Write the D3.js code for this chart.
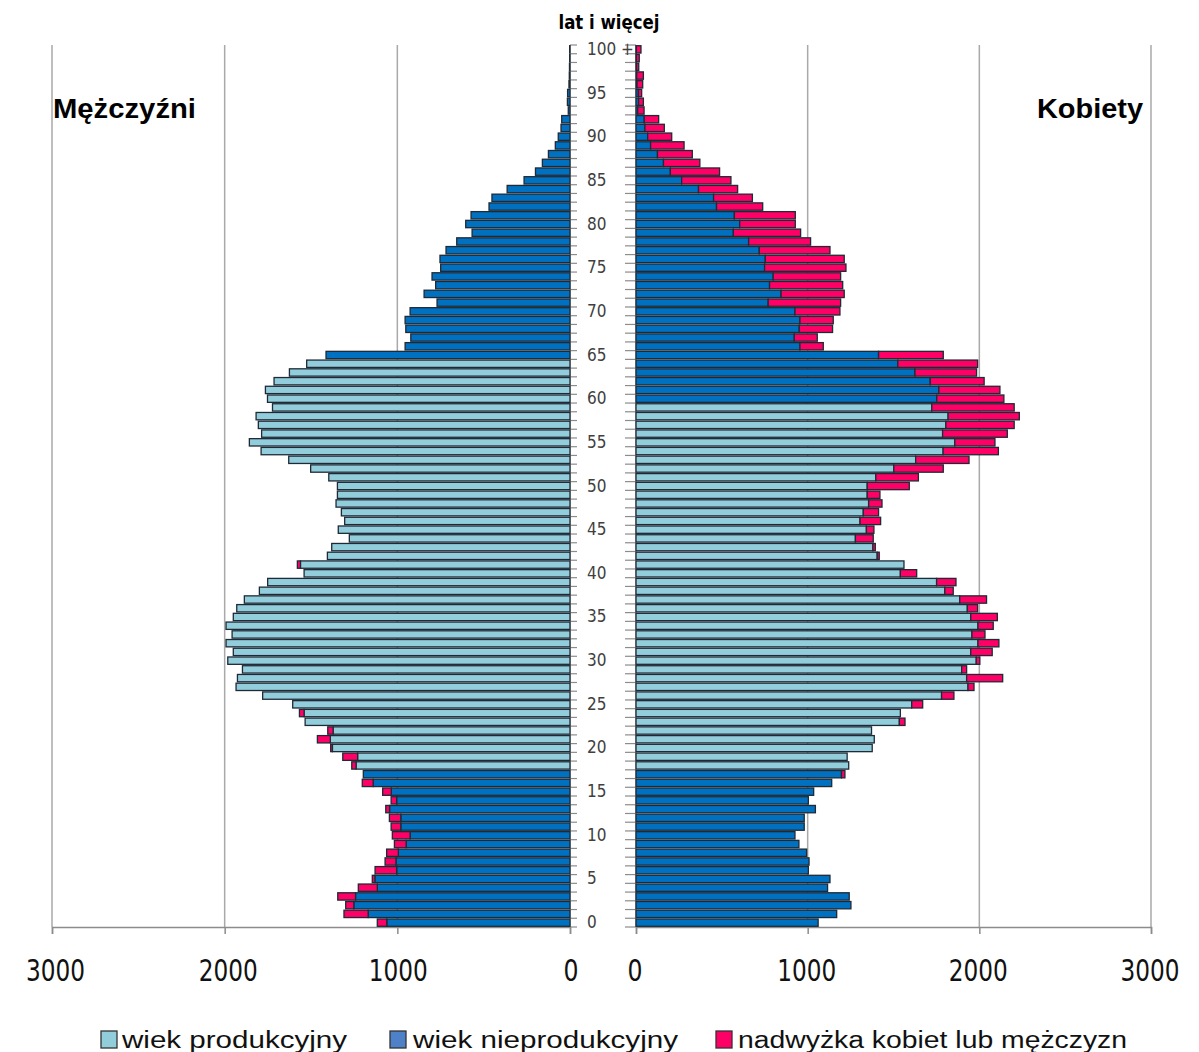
<!DOCTYPE html>
<html><head><meta charset="utf-8">
<script src="https://cdn.jsdelivr.net/npm/d3@7"></script>
<style>
html,body{margin:0;padding:0;background:#fff;}
svg{display:block;}
</style></head>
<body>
<svg id="chart" width="1199" height="1052"></svg>
<script>
// ---- DATA (thousands of persons, age 0..100+) ----
const ages = d3.range(0, 101);
const men = [
 1116,1309,1299,1345,1226,1145,1129,1071,1062,1017,
 1029,1036,1046,1067,1036,1085,1203,1197,1264,1316,
 1386,1463,1403,1534,1567,1606,1780,1934,1926,1897,
 1982,1950,1992,1957,1992,1950,1930,1886,1799,1751,
 1540,1579,1405,1380,1278,1342,1305,1324,1355,1347,
 1347,1397,1502,1629,1789,1857,1786,1805,1818,1723,
 1752,1764,1714,1625,1525,1413,955,922,951,955,
 926,770,845,778,799,749,753,718,656,567,
 604,573,469,452,364,266,200,160,125,85,
 68,52,48,10,15,14,6,4,3,2,2
];
const women = [
 1061,1169,1252,1242,1116,1130,1004,1008,994,949,
 926,980,980,1045,1004,1035,1140,1217,1239,1230,
 1376,1388,1372,1567,1540,1670,1852,1969,2136,1926,
 2003,2075,2114,2033,2081,2105,1990,2042,1848,1864,
 1635,1561,1417,1394,1382,1386,1425,1413,1433,1421,
 1592,1645,1790,1940,2111,2091,2163,2203,2233,2203,
 2143,2120,2028,1984,1990,1790,1091,1056,1145,1149,
 1188,1192,1213,1204,1192,1223,1213,1130,1017,959,
 928,928,738,678,592,553,487,372,328,280,
 208,165,132,47,43,33,39,43,16,19,29
];
const productiveMen = [18, 64];
const productiveWomen = [18, 59];
const ageTickAges = d3.range(0, 101, 5);
const ageTickLabels = ["0","5","10","15","20","25","30","35","40","45","50","55","60","65","70","75","80","85","90","95","100 +"];
const valueTicks = [0, 1000, 2000, 3000];
const legendLabels = ["wiek produkcyjny", "wiek nieprodukcyjny", "nadwyżka kobiet lub mężczyzn"];
const sideTitles = ["Mężczyźni", "Kobiety"];
const axisTitle = "lat i więcej";

// ---- STYLE ----
const C_PROD = "#92CDDC", C_NONPROD = "#0070C0", C_SURPLUS = "#FF0066", C_LEG2 = "#4F81C8";
const STROKE = "#1f2a36";
const NARROW = "'Liberation Sans Narrow','Arial Narrow','DejaVu Sans Condensed',sans-serif";
const SANS = "'Liberation Sans',Arial,sans-serif";

const svg = d3.select("#chart");
svg.append("rect").attr("width",1199).attr("height",1052).attr("fill","#fff");

const yTop = 45, yBottom = 927;
const xL = d3.scaleLinear().domain([0,3000]).range([570, 52]);
const xR = d3.scaleLinear().domain([0,3000]).range([636, 1151]);
const y = d3.scaleBand().domain(ages).range([yBottom, yTop]).paddingInner(0.16).paddingOuter(0.08);

// gridlines
const grid = svg.append("g");
valueTicks.filter(v => v > 0).forEach(v => {
  grid.append("line").attr("x1", xL(v)).attr("x2", xL(v)).attr("y1", yTop).attr("y2", yBottom)
    .attr("stroke", "#a9a9a9").attr("stroke-width", 1.5);
  grid.append("line").attr("x1", xR(v)).attr("x2", xR(v)).attr("y1", yTop).attr("y2", yBottom)
    .attr("stroke", "#a9a9a9").attr("stroke-width", 1.5);
});

// bottom axes
const axL = d3.axisBottom(xL).tickValues(valueTicks).tickSize(7).tickFormat("");
const axR = d3.axisBottom(xR).tickValues(valueTicks).tickSize(7).tickFormat("");
[axL, axR].forEach(ax => {
  const g = svg.append("g").attr("transform", `translate(0,${yBottom})`).call(ax);
  g.select(".domain").attr("stroke", "#8c8c8c").attr("stroke-width", 1.5);
  g.selectAll(".tick line").attr("stroke", "#8c8c8c").attr("stroke-width", 1.5);
});
const tickLabelW = v => v === 0 ? 15 : 59;
valueTicks.forEach(v => {
  svg.append("text").attr("x", xL(v) + (v >= 2000 ? 3.5 : 1)).attr("y", 981).attr("text-anchor", "middle")
    .attr("font-family", NARROW).attr("font-size", 31).attr("fill", "#111")
    .attr("textLength", tickLabelW(v)).attr("lengthAdjust", "spacingAndGlyphs")
    .text(v);
  svg.append("text").attr("x", xR(v) - 1).attr("y", 981).attr("text-anchor", "middle")
    .attr("font-family", NARROW).attr("font-size", 31).attr("fill", "#111")
    .attr("textLength", tickLabelW(v)).attr("lengthAdjust", "spacingAndGlyphs")
    .text(v);
});

// vertical age axes with ticks at every row boundary
const bounds = d3.range(0, 102).map(i => yBottom - i * (yBottom - yTop) / 101);
svg.append("line").attr("x1", 570).attr("x2", 570).attr("y1", yTop).attr("y2", yBottom).attr("stroke", "#8c8c8c").attr("stroke-width", 1.2);
svg.append("line").attr("x1", 636).attr("x2", 636).attr("y1", yTop).attr("y2", yBottom).attr("stroke", "#8c8c8c").attr("stroke-width", 1.2);
svg.append("g").selectAll("line").data(bounds).join("line")
  .attr("x1", 570).attr("x2", 577).attr("y1", d => d).attr("y2", d => d)
  .attr("stroke", "#8c8c8c").attr("stroke-width", 1.2);
svg.append("g").selectAll("line").data(bounds).join("line")
  .attr("x1", 625).attr("x2", 636).attr("y1", d => d).attr("y2", d => d)
  .attr("stroke", "#8c8c8c").attr("stroke-width", 1.2);

// age labels
svg.append("g").selectAll("text").data(ageTickAges).join("text")
  .attr("x", 587).attr("y", d => y(d) + y.bandwidth() / 2 + 5.5)
  .attr("font-family", NARROW).attr("font-size", 17).attr("fill", "#404040")
  .attr("xml:space", "preserve")
  .text((d, i) => ageTickLabels[i]);

// bars
const rows = ages.map((a, i) => {
  const m = men[i], w = women[i], base = Math.min(m, w);
  return {a, m, w, base};
});
const bars = svg.append("g").attr("stroke", STROKE).attr("stroke-width", 1.3);
bars.selectAll("rect.mb").data(rows).join("rect").attr("class", "mb")
  .attr("x", d => xL(d.base)).attr("width", d => xL(0) - xL(d.base))
  .attr("y", d => y(d.a)).attr("height", y.bandwidth())
  .attr("fill", d => (d.a >= productiveMen[0] && d.a <= productiveMen[1]) ? C_PROD : C_NONPROD);
bars.selectAll("rect.ms").data(rows.filter(d => d.m > d.w)).join("rect").attr("class", "ms")
  .attr("x", d => xL(d.m)).attr("width", d => xL(d.base) - xL(d.m))
  .attr("y", d => y(d.a)).attr("height", y.bandwidth())
  .attr("fill", C_SURPLUS);
const bars2 = svg.append("g").attr("stroke", STROKE).attr("stroke-width", 1.3);
bars2.selectAll("rect.wb").data(rows).join("rect").attr("class", "wb")
  .attr("x", xR(0)).attr("width", d => xR(d.base) - xR(0))
  .attr("y", d => y(d.a)).attr("height", y.bandwidth())
  .attr("fill", d => (d.a >= productiveWomen[0] && d.a <= productiveWomen[1]) ? C_PROD : C_NONPROD);
bars2.selectAll("rect.ws").data(rows.filter(d => d.w > d.m)).join("rect").attr("class", "ws")
  .attr("x", d => xR(d.base)).attr("width", d => xR(d.w) - xR(d.base))
  .attr("y", d => y(d.a)).attr("height", y.bandwidth())
  .attr("fill", C_SURPLUS);

// titles
svg.append("text").attr("x", 609).attr("y", 29).attr("text-anchor", "middle")
  .attr("font-family", NARROW).attr("font-weight", "bold").attr("font-size", 20).attr("fill", "#000")
  .attr("textLength", 101).attr("lengthAdjust", "spacingAndGlyphs").text(axisTitle);
svg.append("text").attr("x", 53).attr("y", 118)
  .attr("font-family", SANS).attr("font-weight", "bold").attr("font-size", 28).attr("fill", "#000")
  .attr("textLength", 143).attr("lengthAdjust", "spacingAndGlyphs").text(sideTitles[0]);
svg.append("text").attr("x", 1143).attr("y", 118).attr("text-anchor", "end")
  .attr("font-family", SANS).attr("font-weight", "bold").attr("font-size", 28).attr("fill", "#000")
  .attr("textLength", 106).attr("lengthAdjust", "spacingAndGlyphs").text(sideTitles[1]);

// legend
const legendItems = [
  {sx: 101, tx: 122, tw: 225, fill: C_PROD},
  {sx: 390, tx: 413, tw: 265, fill: C_LEG2},
  {sx: 716, tx: 738, tw: 389, fill: C_SURPLUS}
];
legendItems.forEach((it, i) => {
  svg.append("rect").attr("x", it.sx).attr("y", 1031).attr("width", 16).attr("height", 17)
    .attr("fill", it.fill).attr("stroke", "#333").attr("stroke-width", 1.3);
  svg.append("text").attr("x", it.tx).attr("y", 1048)
    .attr("font-family", SANS).attr("font-size", 23).attr("fill", "#111")
    .attr("textLength", it.tw).attr("lengthAdjust", "spacingAndGlyphs").text(legendLabels[i]);
});
</script>
</body></html>
